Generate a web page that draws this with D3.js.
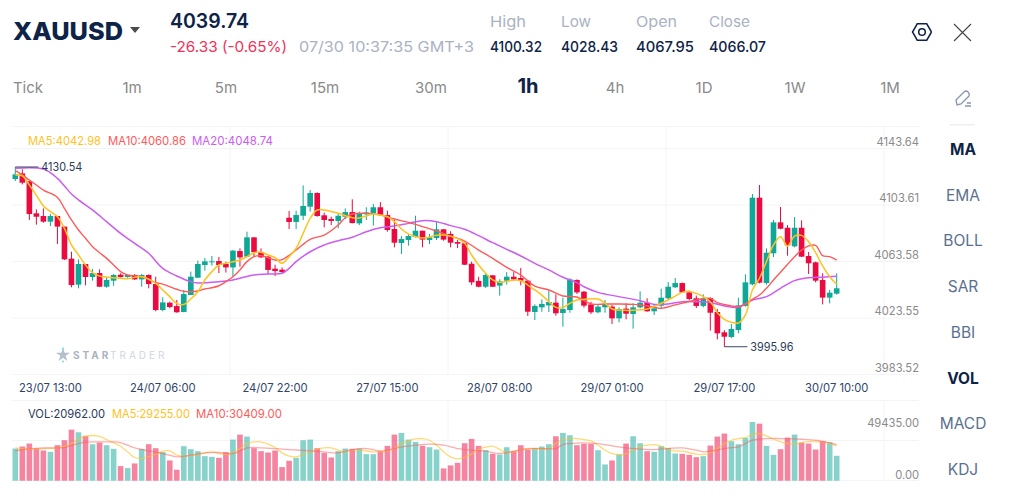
<!DOCTYPE html>
<meta charset="utf-8">

<!-- Load d3.js -->
<script src="https://d3js.org/d3.v7.min.js"></script>

<style>
  html, body { margin: 0; background: #fff; }
  svg { display: block; }
  text { font-family: Inter, "Open Sans", sans-serif; }
</style>

<div id="viz"></div>

<script>

// candles, one per hour
const open = [4122.0,4126.0,4120.4,4097.7,4095.8,4091.8,4095.8,4088.3,4065.6,4047.2,
  4061.8,4052.6,4055.4,4045.7,4050.0,4054.2,4052.6,4054.0,4050.9,4054.0,
  4047.6,4029.2,4034.4,4032.0,4027.8,4039.8,4052.1,4061.1,4063.0,4063.9,
  4061.8,4059.4,4071.0,4067.0,4080.7,4070.3,4067.0,4058.5,4057.8,4094.6,
  4091.6,4096.0,4102.4,4112.1,4096.3,4093.7,4092.3,4095.3,4098.6,4090.6,
  4097.0,4097.7,4102.0,4096.5,4086.6,4076.7,4078.8,4080.9,4085.4,4078.8,
  4080.2,4086.4,4083.1,4077.4,4076.5,4062.0,4049.8,4045.7,4053.8,4046.5,
  4050.0,4052.8,4051.9,4050.0,4027.8,4031.1,4032.5,4034.4,4027.1,4029.2,
  4050.5,4042.2,4033.2,4027.6,4031.1,4031.6,4023.3,4030.2,4026.4,4031.1,
  4034.4,4028.3,4032.3,4037.5,4045.3,4048.3,4041.7,4037.5,4032.1,4037.7,
  4027.8,4013.4,4010.1,4015.0,4032.1,4047.4,4108.8,4048.3,4069.4,4091.3,
  4087.5,4074.3,4087.5,4067.5,4063.0,4050.5,4038.0,4040.8];
const close = [4125.3,4119.4,4097.2,4095.3,4091.8,4095.8,4088.3,4065.1,4046.9,4061.8,
  4052.6,4055.4,4045.7,4050.5,4054.0,4052.6,4054.0,4050.9,4054.0,4047.6,
  4029.2,4034.6,4031.3,4027.6,4040.5,4052.8,4061.8,4063.7,4063.7,4061.1,
  4059.4,4071.3,4066.5,4080.7,4070.3,4066.5,4057.6,4056.8,4056.1,4091.6,
  4096.5,4102.9,4112.1,4095.8,4093.0,4092.3,4096.0,4098.6,4090.8,4097.2,
  4098.4,4102.0,4096.5,4085.9,4076.9,4079.5,4081.6,4085.4,4079.1,4080.7,
  4086.4,4079.1,4076.9,4076.2,4061.3,4048.8,4045.7,4054.0,4045.7,4049.5,
  4052.8,4050.9,4050.0,4028.0,4032.1,4033.5,4034.9,4026.9,4029.9,4050.9,
  4041.7,4032.3,4027.6,4031.6,4033.5,4023.3,4029.9,4026.6,4031.1,4034.4,
  4028.3,4030.4,4037.9,4045.7,4048.3,4041.7,4037.0,4032.1,4037.5,4027.3,
  4012.7,4010.3,4015.8,4032.5,4048.8,4108.8,4048.6,4069.8,4091.3,4086.8,
  4075.0,4087.5,4067.0,4062.3,4050.0,4038.0,4041.5,4044.6];
const high = [4130.54,4128.9,4120.4,4100.5,4101.2,4097.2,4095.8,4088.3,4070.5,4065.1,
  4061.8,4058.3,4058.0,4052.4,4054.7,4055.2,4054.0,4054.7,4054.7,4054.5,
  4052.8,4038.2,4035.1,4036.3,4043.4,4056.4,4064.2,4066.0,4067.5,4066.8,
  4063.5,4071.7,4072.9,4084.7,4080.7,4072.9,4067.5,4061.3,4059.4,4099.4,
  4099.6,4117.5,4114.2,4112.6,4098.2,4095.3,4097.7,4101.2,4107.6,4098.9,
  4102.0,4104.3,4105.7,4099.6,4093.0,4081.6,4082.8,4096.0,4085.4,4083.1,
  4091.3,4086.4,4085.0,4078.8,4076.9,4063.5,4052.8,4055.2,4053.8,4051.0,
  4056.1,4056.1,4059.0,4050.5,4033.2,4036.8,4042.9,4040.3,4037.9,4051.7,
  4050.9,4042.7,4035.1,4032.8,4036.3,4032.8,4031.1,4034.0,4034.0,4042.4,
  4037.5,4033.5,4044.3,4049.0,4051.9,4048.6,4042.9,4039.4,4040.3,4038.2,
  4029.9,4015.0,4019.3,4037.9,4054.5,4111.4,4117.8,4072.9,4093.0,4102.2,
  4089.4,4095.1,4092.7,4070.3,4063.5,4055.2,4043.4,4055.2];
const low = [4120.6,4118.2,4093.0,4089.7,4091.1,4088.7,4076.0,4064.6,4045.3,4044.6,
  4046.7,4050.0,4045.7,4045.0,4046.4,4052.1,4052.1,4050.5,4045.7,4044.6,
  4028.3,4028.3,4030.4,4027.3,4027.6,4039.8,4051.9,4057.1,4060.6,4055.4,
  4055.7,4052.8,4059.9,4066.5,4067.0,4066.1,4054.7,4053.3,4055.2,4086.6,
  4086.6,4093.0,4098.9,4095.3,4087.8,4089.4,4087.1,4093.5,4090.6,4089.4,
  4093.0,4089.0,4096.5,4084.7,4073.6,4068.9,4074.8,4080.5,4073.6,4076.0,
  4078.8,4078.3,4073.6,4073.1,4061.1,4046.9,4045.3,4044.8,4045.5,4039.4,
  4047.2,4050.0,4046.7,4025.0,4022.1,4028.0,4027.8,4025.2,4017.4,4027.3,
  4040.6,4030.9,4026.4,4026.9,4027.3,4019.3,4020.5,4022.6,4016.0,4030.4,
  4028.0,4025.7,4029.9,4036.8,4044.8,4041.5,4036.3,4030.6,4031.1,4014.6,
  4008.4,4003.2,4009.4,4012.7,4031.6,4046.7,4048.1,4047.2,4066.8,4086.4,
  4067.7,4073.6,4066.8,4054.7,4048.8,4033.2,4033.9,4040.1];

// volume of each candle
const volume = [27092,28768,31282,27092,25416,24299,29885,34075,43012,40778,
  37706,30723,32120,29885,26813,12289,10613,14524,26813,30723,
  27371,24020,17037,9217,29047,26534,24858,20668,20110,19272,
  24020,34633,38823,37147,27371,24858,23741,25416,11451,16758,
  19272,34075,34633,27371,23461,19551,24858,27092,26813,27092,
  22344,22344,24858,29327,38823,40219,34633,32678,29327,28209,
  26254,10334,12848,15082,31561,35192,29327,25696,22623,22065,
  28209,24858,29885,26254,27371,28768,30723,37426,40219,38264,
  29885,31002,31002,25696,13686,17037,22065,31282,37426,31561,
  24858,24299,29047,27651,22903,22623,21785,19830,20668,29606,
  37147,39661,33237,30723,36030,49435,48040,29327,21785,26534,
  36309,38823,32120,31282,26254,33237,32399,20962];

// moving averages, read at the candle numbers in the *Idx lists
const ma5Idx = [0,1,2,3,4,5,6,7,8,9,10,11,12,14,16,18,20,21,22,23,24,25,26,27,28,29,30,32,33,34,35,36,37,38,
  39,40,41,42,43,44,46,48,49,51,52,53,54,55,56,58,60,61,63,64,65,66,67,68,69,70,71,72,73,74,75,76,77,78,79,80,81,
  83,84,85,86,88,90,91,92,93,94,95,96,97,98,99,100,101,102,103,104,105,106,107,108,109,110,111,112,113,114,115,116,117];
const ma5 = [4124.9,4124.2,4117.8,4110.5,4102.9,4098.9,4095.3,4087.1,4075.3,4068.2,4061.1,4055.7,4053.3,4052.1,4051.4,4052.8,
  4048.1,4043.4,4038.7,4033.9,4033.2,4037.0,4042.2,4050.5,4056.4,4061.1,4062.3,4064.6,4067.0,4069.8,4070.1,4068.2,4066.3,4062.3,
  4067.0,4072.9,4083.5,4094.2,4100.1,4100.1,4097.7,4094.6,4094.4,4097.2,4096.5,4095.3,4091.8,4086.6,4083.1,4080.2,4082.1,4082.35,4079.8,
  4076.5,4068.2,4061.1,4055.2,4050.5,4048.8,4049.5,4050.5,4050.0,4046.9,4043.4,4039.8,4035.1,4031.1,4030.9,4034.0,4036.3,4036.8,
  4037.0,4034.0,4029.9,4029.2,4029.0,4029.9,4031.6,4034.0,4036.3,4039.1,4041.7,4042.4,4041.0,4038.7,4035.1,4027.3,4022.6,4020.5,4020.0,
  4025.7,4043.4,4051.7,4063.5,4075.3,4081.2,4074.6,4081.6,4082.1,4077.6,4069.8,4060.4,4052.8,4047.4];

const ma10Idx = [0,1,2,3,4,6,7,8,9,10,11,12,13,14,15,16,18,19,20,21,23,24,25,26,27,28,29,30,31,32,33,34,35,36,37,38,
  40,42,44,46,47,48,50,52,54,56,58,60,62,64,66,68,70,72,74,76,78,80,82,84,86,88,90,92,94,97,99,100,102,103,104,105,106,107,108,109,110,111,112,113,114,115,116,117];
const ma10 = [4127.9,4124.9,4121.3,4117.8,4114.2,4109.0,4101.2,4093.0,4085.9,4080.0,4074.1,4069.8,4065.8,4061.1,4056.4,4054.0,4052.8,4050.9,4048.6,4047.6,
  4043.9,4042.4,4042.2,4042.7,4044.1,4045.0,4046.4,4049.3,4052.8,4057.6,4063.5,4067.0,4067.7,4066.3,4064.6,4064.9,
  4071.7,4079.3,4082.3,4089.4,4094.6,4097.2,4097.7,4096.5,4093.7,4091.3,4088.3,4085.2,4081.6,4078.1,4071.7,4065.8,4059.4,4054.0,4046.2,4043.4,4039.1,4038.4,
  4033.5,4033.5,4033.5,4033.2,4032.1,4030.4,4032.8,4036.3,4037.5,4034.4,4032.1,4031.6,4033.5,4036.8,4039.8,4044.6,4050.5,4055.9,4061.6,4067.0,4071.7,4074.6,4075.0,4067.7,4067.0,4064.6];

const ma20Idx = [0,4,6,7,8,9,11,13,15,17,19,21,23,25,26,28,30,31,32,34,36,38,39,40,42,44,46,48,50,52,54,56,58,60,62,64,66,68,70,72,74,76,78,80,
  81,83,86,89,91,93,95,97,99,101,103,105,107,109,111,113,115,117];
const ma20 = [4129.6,4129.1,4122.5,4117.1,4111.4,4107.2,4100.1,4091.8,4083.5,4076.4,4069.4,4058.7,4053.3,4049.3,4048.3,4048.8,4049.8,4050.5,4051.7,4054.0,4054.7,4055.2,
  4058.7,4063.5,4070.5,4075.3,4078.3,4080.7,4084.7,4087.5,4088.7,4090.6,4092.5,4091.8,4089.0,4086.4,4081.9,4076.9,4072.2,4067.5,4062.3,4057.6,4052.4,4048.6,
  4045.7,4041.7,4038.7,4035.8,4033.2,4033.5,4035.1,4035.1,4034.6,4032.1,4031.1,4036.3,4038.7,4044.6,4050.0,4052.1,4052.4,4053.1];

const volMa5Idx = [0,2,4,6,8,9,10,12,13,14,15,16,17,18,20,21,22,23,24,26,28,29,30,31,32,33,34,35,36,37,38,39,40,41,42,43,44,45,46,47,48,49,51,52,53,54,55,56,57,58,59,60,61,62,63,64,65,66,67,68,69,70,71,72,73,75,76,77,78,79,80,81,82,83,84,85,86,87,88,89,90,91,92,93,94,95,96,97,98,99,100,101,102,103,104,105,106,107,108,109,110,111,112,113,114,115,116,117];
const volMa5 = [27651,26534,27092,27651,31282,34913,37426,37426,34633,31840,29047,24299,19551,18713,22065,24858,25137,21506,20668,22065,24299,22903,22065,23461,27092,31282,32678,32678,30723,27930,23461,20668,20110,22065,24299,26534,27651,27651,25696,24299,25696,25696,24299,24299,25137,27092,31282,33516,35192,35471,34075,29885,24299,20110,18434,19551,22344,26254,28209,29047,26254,23741,24299,26254,26534,26534,27092,31282,34633,35471,35471,34633,33516,29885,25696,22903,22065,22344,25696,28488,29885,30444,29047,26254,25137,24858,23741,22344,22065,23461,27092,31282,34075,35471,36309,39102,39661,37706,34913,32678,31282,30723,32120,32957,32678,32678,31282,29255];

const volMa10Idx = [0,2,4,7,8,9,10,12,14,15,17,19,21,23,25,27,29,31,32,33,35,38,39,42,44,46,48,50,52,53,55,57,59,61,63,65,67,69,71,73,75,77,78,79,81,83,85,87,89,91,93,95,97,98,99,101,103,104,105,107,109,112,114,116,117];
const volMa10 = [25137,26813,27651,27930,29885,31282,32399,32678,32678,32120,27651,25137,22903,20110,21506,23461,23741,22903,24858,27651,27651,26534,26254,25137,24299,23461,26254,27092,25137,25696,28488,29885,30723,29885,27092,25696,24858,22903,24858,27092,27092,27092,30444,31282,31840,31282,29327,27651,26534,26254,27092,27651,25696,24299,24858,27092,28488,31282,34075,35471,35471,34913,34075,31840,30409];

// axis labels
const priceTicks = [4143.64, 4103.61, 4063.58, 4023.55, 3983.52];
const volTicks = [49435, 0];
const timeTickIdx = [5, 21, 37, 53, 69, 85, 101, 117];
const timeLabels = ["23/07 13:00", "24/07 06:00", "24/07 22:00", "27/07 15:00", "28/07 08:00", "29/07 01:00", "29/07 17:00", "30/07 10:00"];

// header and side menu text
const statLabels = ["High", "Low", "Open", "Close"];
const statValues = ["4100.32", "4028.43", "4067.95", "4066.07"];
const periods = ["Tick", "1m", "5m", "15m", "30m", "1h", "4h", "1D", "1W", "1M"];
const indicators = ["MA", "EMA", "BOLL", "SAR", "BBI", "VOL", "MACD", "KDJ"];
const activeIndicators = ["MA", "VOL"];

const UP = "#0fa897", DOWN = "#ea0a3f";
const C5 = "#ffc21f", C10 = "#ff5a5a", C20 = "#cc5cf2";
const NAVY = "#0d2347";

const svg = d3.select("#viz").append("svg")
  .attr("width", 1024)
  .attr("height", 501);

// helper for the plain texts
function label(x, y, str, size, color, weight, anchor, width) {
  const t = svg.append("text")
    .attr("x", x).attr("y", y)
    .attr("font-size", size)
    .attr("fill", color)
    .attr("font-weight", weight || 400)
    .attr("text-anchor", anchor || "start")
    .text(str);
  if (width) t.attr("textLength", width).attr("lengthAdjust", "spacingAndGlyphs");
  return t;
}

// scales
const x = d3.scaleBand()
  .domain(d3.range(open.length))
  .range([11.1, 840.9])
  .padding(0.2);
const cx = i => x(i) + x.bandwidth() / 2;

const y = d3.scaleLinear()
  .domain([priceTicks[4], priceTicks[0]])
  .range([374.5, 148.5]);

const yVol = d3.scaleLinear()
  .domain([0, volTicks[0]])
  .range([480.7, 422]);

// gridlines
const left = 12, right = 919, column = 218;
const grid = svg.append("g").attr("stroke", "#f3f4f6").attr("stroke-width", 1).attr("fill", "none");
[126.5, ...priceTicks.map(y), 400.5, 440.5, 480.5].forEach(v => {
  grid.append("line").attr("x1", left).attr("x2", right).attr("y1", v).attr("y2", v);
});
d3.range(1, 5).forEach(k => {
  grid.append("line").attr("x1", left + k * column).attr("x2", left + k * column).attr("y1", 126.5).attr("y2", 375);
  grid.append("line").attr("x1", left + k * column).attr("x2", left + k * column).attr("y1", 400.5).attr("y2", 480.5);
});

// candles
const idx = d3.range(open.length);
const candles = svg.append("g");
candles.selectAll("line")
  .data(idx)
  .enter().append("line")
    .attr("x1", cx).attr("x2", cx)
    .attr("y1", i => y(high[i]))
    .attr("y2", i => y(low[i]))
    .attr("stroke", i => close[i] >= open[i] ? UP : DOWN)
    .attr("stroke-width", 1);
candles.selectAll("rect")
  .data(idx)
  .enter().append("rect")
    .attr("x", i => x(i))
    .attr("width", x.bandwidth())
    .attr("y", i => y(Math.max(open[i], close[i])))
    .attr("height", i => Math.max(1, Math.abs(y(open[i]) - y(close[i]))))
    .attr("fill", i => close[i] >= open[i] ? UP : DOWN);

// moving average lines
const maLine = (xs, yScale) => d3.line()
  .x((d, k) => cx(xs[k]))
  .y(d => yScale(d))
  .curve(d3.curveCatmullRom.alpha(0.5));

svg.append("path").attr("d", maLine(ma20Idx, y)(ma20)).attr("fill", "none").attr("stroke", C20).attr("stroke-width", 1.5);
svg.append("path").attr("d", maLine(ma10Idx, y)(ma10)).attr("fill", "none").attr("stroke", C10).attr("stroke-width", 1.4);
svg.append("path").attr("d", maLine(ma5Idx, y)(ma5)).attr("fill", "none").attr("stroke", C5).attr("stroke-width", 1.5);

// highest and lowest markers
const hiI = high.indexOf(d3.max(high));
const loI = low.indexOf(d3.min(low));
svg.append("line").attr("x1", cx(hiI)).attr("x2", cx(hiI) + 23).attr("y1", y(high[hiI])).attr("y2", y(high[hiI])).attr("stroke", "#3a4a66");
label(cx(hiI) + 26, y(high[hiI]) + 4.5, "4130.54", 11.5, "#2a3a58", 400, "start", 41);
svg.append("line").attr("x1", cx(loI)).attr("x2", cx(loI) + 23).attr("y1", y(low[loI])).attr("y2", y(low[loI])).attr("stroke", "#3a4a66");
label(cx(loI) + 26, y(low[loI]) + 4.5, "3995.96", 11.5, "#2a3a58", 400, "start", 43);

// price axis
const yAxis = svg.append("g")
  .attr("transform", `translate(${right},0)`)
  .call(d3.axisLeft(y).tickValues(priceTicks).tickFormat(d3.format(".2f")).tickSize(0).tickPadding(0));
yAxis.select(".domain").remove();
yAxis.selectAll("text")
  .attr("transform", "translate(0,-7)")
  .attr("font-family", null)
  .attr("font-size", 11.2)
  .attr("fill", "#8a8a8a");

// time axis
const xAxis = svg.append("g")
  .attr("transform", "translate(0,381)")
  .call(d3.axisBottom(x).tickValues(timeTickIdx).tickFormat((d, k) => timeLabels[k]).tickSize(0).tickPadding(3));
xAxis.select(".domain").remove();
xAxis.selectAll("text")
  .attr("font-family", null)
  .attr("font-size", 11.2)
  .attr("fill", "#2f4468");

// volume bars
svg.append("g").selectAll("rect")
  .data(idx)
  .enter().append("rect")
    .attr("x", i => x(i))
    .attr("width", x.bandwidth())
    .attr("y", i => yVol(volume[i]))
    .attr("height", i => yVol(0) - yVol(volume[i]))
    .attr("fill", i => close[i] >= open[i] ? UP : DOWN)
    .attr("opacity", 0.5);

svg.append("path").attr("d", maLine(volMa5Idx, yVol)(volMa5)).attr("fill", "none").attr("stroke", C5).attr("stroke-width", 1.3).attr("opacity", 0.6);
svg.append("path").attr("d", maLine(volMa10Idx, yVol)(volMa10)).attr("fill", "none").attr("stroke", C10).attr("stroke-width", 1.3).attr("opacity", 0.5);

// volume axis labels
label(right, 426.5, "49435.00", 11.2, "#8a8a8a", 400, "end");
label(right, 478.5, "0.00", 11.2, "#8a8a8a", 400, "end");

// legends
label(28, 145, "MA5:4042.98", 12, C5, 400, "start", 73);
label(108, 145, "MA10:4060.86", 12, C10, 400, "start", 78);
label(192, 145, "MA20:4048.74", 12, C20, 400, "start", 81);
label(28, 418, "VOL:20962.00", 12, "#2a3a58", 400, "start", 77);
label(112, 418, "MA5:29255.00", 12, C5, 400, "start", 78);
label(196, 418, "MA10:30409.00", 12, C10, 400, "start", 86);

// watermark
svg.append("path").attr("d", d3.symbol(d3.symbolStar, 60)()).attr("transform", "translate(63,355)").attr("fill", "#b4c0cc");
svg.append("circle").attr("cx", 63).attr("cy", 348.5).attr("r", 0.9).attr("fill", "#55dbe0");
svg.append("circle").attr("cx", 63).attr("cy", 361.5).attr("r", 0.9).attr("fill", "#55dbe0");
label(73, 359, "STAR", 10, "#aab4c0", 700).attr("letter-spacing", 3);
label(110, 359, "TRADER", 10, "#cfd6de", 400).attr("letter-spacing", 3);

// header
label(13, 40, "XAUUSD", 25, NAVY, 800, "start", 110);
svg.append("path").attr("d", "M130,27 h10 l-5,6 z").attr("fill", "#4a4a4a");
label(170, 28, "4039.74", 20, NAVY, 600, "start", 79);
label(170, 52, "-26.33 (-0.65%)", 15, "#f0325a", 400, "start", 117);
label(299, 52, "07/30 10:37:35 GMT+3", 15, "#aab2c2", 400, "start", 175);
const statX = [490, 561, 636, 709];
const statW = [52, 57, 58, 57];
const statLabelW = [36, 30, 41, 41];
statLabels.forEach((s, k) => {
  label(statX[k], 27, s, 15, "#aab2c2", 400, "start", statLabelW[k]);
  label(statX[k], 52, statValues[k], 15, NAVY, 500, "start", statW[k]);
});

// icons
svg.append("path").attr("d", d3.line()(d3.range(7).map(k => [922 + 9.5 * Math.cos(k * Math.PI / 3), 32 + 9.5 * Math.sin(k * Math.PI / 3)])))
  .attr("fill", "none").attr("stroke", NAVY).attr("stroke-width", 1.5);
svg.append("circle").attr("cx", 922).attr("cy", 32).attr("r", 3.3).attr("fill", "none").attr("stroke", NAVY).attr("stroke-width", 1.5);
svg.append("path").attr("d", "M954,24 L971,41 M971,24 L954,41").attr("stroke", "#444").attr("stroke-width", 1.1);
svg.append("path").attr("d", "M957,105 L956,100 L964,92 Q966,90 968,92 Q970,94 969,96 L961,104 Z M965,106 H971 M967,103 H971")
  .attr("fill", "none").attr("stroke", "#8796ae").attr("stroke-width", 1.3);

// period row
const periodX = [28, 132, 226, 325, 431, 528, 615, 704, 795, 890];
periods.forEach((p, k) => {
  if (p === "1h") label(periodX[k], 93, p, 20, NAVY, 700, "middle");
  else label(periodX[k], 92.5, p, 15, "#8a8a8a", 400, "middle");
});

// side menu
svg.append("line").attr("x1", 950).attr("x2", 975).attr("y1", 124.8).attr("y2", 124.8).attr("stroke", "#e8eaee").attr("stroke-width", 1.2);
const menuY = d3.scalePoint().domain(indicators).range([155, 475]);
indicators.forEach(n => {
  const on = activeIndicators.includes(n);
  label(963, menuY(n), n, 15.5, on ? NAVY : "#5b7090", on ? 700 : 400, "middle");
});

</script>
